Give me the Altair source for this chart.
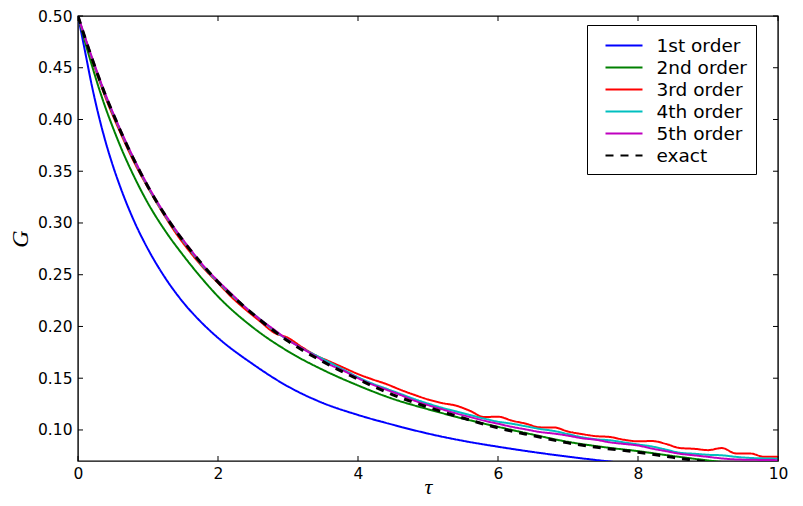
import altair as alt
import pandas as pd

# ---- data ----
tau_coarse = [0.0, 0.1, 0.2, 0.3, 0.4, 0.5, 0.6, 0.8, 1.0, 1.25, 1.5, 1.75, 2.0, 2.5,
              3.0, 3.5, 4.0, 4.5, 5.0, 5.5, 6.0, 6.5, 7.0, 7.5, 8.0, 8.5, 9.0, 9.5, 10.0]

first_order = [0.500, 0.466, 0.432, 0.4025, 0.377, 0.355, 0.3355, 0.302, 0.2747, 0.2465,
               0.2235, 0.2048, 0.189, 0.1635, 0.142, 0.126, 0.1145, 0.105, 0.0965, 0.0895,
               0.0838, 0.0787, 0.0742, 0.0702, 0.0665, 0.0632, 0.0602, 0.0575, 0.055]

second_order = [0.500, 0.475, 0.452, 0.430, 0.410, 0.392, 0.375, 0.345, 0.319, 0.292,
                0.269, 0.248, 0.229, 0.199, 0.176, 0.158, 0.143, 0.130, 0.120, 0.111,
                0.103, 0.0955, 0.0885, 0.0835, 0.0795, 0.0748, 0.0705, 0.067, 0.064]

exact = [0.500, 0.479, 0.459, 0.440, 0.422, 0.406, 0.390, 0.361, 0.335, 0.307,
         0.283, 0.262, 0.243, 0.212, 0.186, 0.166, 0.149, 0.134, 0.122, 0.1115,
         0.102, 0.0945, 0.0875, 0.0825, 0.0785, 0.0735, 0.069, 0.0655, 0.062]

tau_fine = [0.0, 0.2, 0.4, 0.6, 0.8, 1.0, 1.2, 1.4, 1.6, 1.8, 2.0, 2.2, 2.4, 2.6, 2.8,
            3.0, 3.2, 3.4, 3.6, 3.8, 4.0, 4.2, 4.4, 4.6, 4.8, 5.0, 5.2, 5.4, 5.6, 5.8,
            6.0, 6.2, 6.4, 6.6, 6.8, 7.0, 7.2, 7.4, 7.6, 7.8, 8.0, 8.2, 8.4, 8.6, 8.8,
            9.0, 9.2, 9.4, 9.6, 9.8, 10.0]

third_order = [0.500, 0.458, 0.420, 0.388, 0.359, 0.334, 0.311, 0.290, 0.272, 0.256,
               0.242, 0.228, 0.216, 0.205, 0.194, 0.189, 0.180, 0.172, 0.166, 0.160,
               0.154, 0.149, 0.1445, 0.139, 0.134, 0.1295, 0.126, 0.1235, 0.1185, 0.1125,
               0.1128, 0.109, 0.106, 0.1025, 0.1024, 0.0985, 0.096, 0.094, 0.0932, 0.0905,
               0.089, 0.0893, 0.0865, 0.0825, 0.0818, 0.0805, 0.0825, 0.0773, 0.0773, 0.0741,
               0.0741]

fourth_order = [0.500, 0.459, 0.422, 0.390, 0.361, 0.335, 0.312, 0.292, 0.274, 0.257,
                0.243, 0.230, 0.218, 0.207, 0.196, 0.187, 0.179, 0.172, 0.165, 0.158,
                0.151, 0.145, 0.140, 0.135, 0.130, 0.1255, 0.1215, 0.118, 0.1145, 0.111,
                0.108, 0.106, 0.1035, 0.101, 0.099, 0.096, 0.093, 0.091, 0.090, 0.088,
                0.086, 0.084, 0.081, 0.078, 0.077, 0.076, 0.0755, 0.074, 0.073, 0.0725,
                0.0722]

fifth_order = [0.500, 0.460, 0.423, 0.391, 0.362, 0.336, 0.313, 0.293, 0.275, 0.258,
               0.244, 0.231, 0.218, 0.207, 0.197, 0.187, 0.179, 0.171, 0.163, 0.157,
               0.150, 0.144, 0.139, 0.134, 0.1285, 0.124, 0.120, 0.116, 0.1125, 0.109,
               0.106, 0.103, 0.1005, 0.098, 0.0965, 0.0945, 0.092, 0.0905, 0.088, 0.0865,
               0.085, 0.082, 0.0795, 0.077, 0.0755, 0.074, 0.0725, 0.0715, 0.0712, 0.071,
               0.0708]

series_names = ["1st order", "2nd order", "3rd order", "4th order", "5th order", "exact"]
series_colors = ["#0000ff", "#008000", "#ff0000", "#00bfbf", "#bf00bf", "#000000"]
series_dashes = [[1, 0], [1, 0], [1, 0], [1, 0], [1, 0], [8, 7]]

x_ticks = [0, 2, 4, 6, 8, 10]
y_ticks = [0.10, 0.15, 0.20, 0.25, 0.30, 0.35, 0.40, 0.45, 0.50]

# ---- tables ----
def table(name, xs, ys):
    return pd.DataFrame({"tau": xs, "G": ys, "series": name})

orders_df = pd.concat([
    table("1st order", tau_coarse, first_order),
    table("2nd order", tau_coarse, second_order),
    table("3rd order", tau_fine, third_order),
    table("4th order", tau_fine, fourth_order),
    table("5th order", tau_fine, fifth_order),
], ignore_index=True)
exact_df = table("exact", tau_coarse, exact)
xt_df = pd.DataFrame({"tau": x_ticks})
yt_df = pd.DataFrame({"G": y_ticks})

W, H = 700, 445

xscale = alt.Scale(domain=[0, 10], nice=False, zero=False)
yscale = alt.Scale(domain=[0.07, 0.5], nice=False, zero=False)

legend = alt.Legend(
    orient="none", legendX=509, legendY=9, title=None,
    symbolType="M-1.85,0H1.85", symbolSize=400, symbolStrokeWidth=2.2,
    labelFont="DejaVu Sans", labelFontSize=18.5, labelColor="black",
    strokeColor="black", fillColor="white", padding=9, rowPadding=1.0,
    labelOffset=21, symbolOffset=16.5, cornerRadius=0, labelLimit=300,
)

color = alt.Color("series:N", scale=alt.Scale(domain=series_names, range=series_colors), legend=legend)
dash = alt.StrokeDash("series:N", scale=alt.Scale(domain=series_names, range=series_dashes), legend=legend)

x_enc = alt.X("tau:Q", scale=xscale, axis=alt.Axis(
    values=x_ticks, format="d", title="τ", labelFlush=False, labelOverlap=False,
    titleFont="Liberation Serif", titleFontStyle="italic", titleFontWeight="normal",
    titleFontSize=22, titleColor="black", titleX=W / 2, titleY=32,
    titleBaseline="alphabetic", titleAlign="center", labelPadding=5))
y_enc = alt.Y("G:Q", scale=yscale, axis=alt.Axis(
    values=y_ticks, format=".2f", title="G", labelOverlap=False,
    titleFont="Liberation Serif", titleFontStyle="italic", titleFontWeight="normal",
    titleFontSize=24, titleColor="black", titleX=-58, titleY=H / 2, titleAngle=270,
    titleBaseline="middle", titleAlign="center", labelPadding=6))

orders = alt.Chart(orders_df).mark_line(clip=True, strokeWidth=2, interpolate="monotone").encode(
    x=x_enc, y=y_enc, color=color, strokeDash=dash, order=alt.Order("tau:Q"))
exact_line = alt.Chart(exact_df).mark_line(clip=True, strokeWidth=3, interpolate="monotone").encode(
    x=alt.X("tau:Q"), y=alt.Y("G:Q"), color=color, strokeDash=dash, order=alt.Order("tau:Q"))

tick_len = 5
bottom_ticks = alt.Chart(xt_df).mark_rule(color="black", strokeWidth=1).encode(
    x=alt.X("tau:Q"), y=alt.value(H), y2=alt.value(H - tick_len))
top_ticks = alt.Chart(xt_df).mark_rule(color="black", strokeWidth=1).encode(
    x=alt.X("tau:Q"), y=alt.value(0), y2=alt.value(tick_len))
left_ticks = alt.Chart(yt_df).mark_rule(color="black", strokeWidth=1).encode(
    y=alt.Y("G:Q"), x=alt.value(0), x2=alt.value(tick_len))
right_ticks = alt.Chart(yt_df).mark_rule(color="black", strokeWidth=1).encode(
    y=alt.Y("G:Q"), x=alt.value(W), x2=alt.value(W - tick_len))

chart = alt.layer(orders, exact_line, bottom_ticks, top_ticks, left_ticks, right_ticks).properties(
    width=W, height=H,
    autosize=alt.AutoSizeParams(type="none"),
    padding={"left": 70, "top": 8, "right": 12, "bottom": 37},
    background="white",
).configure_axis(
    grid=False, domain=False, ticks=False, tickSize=0,
    labelFont="DejaVu Sans", labelFontSize=15.5, labelColor="black",
).configure_view(stroke="black", strokeWidth=1.4)

chart.save("out.html", embed_options={"renderer": "svg", "actions": False})
